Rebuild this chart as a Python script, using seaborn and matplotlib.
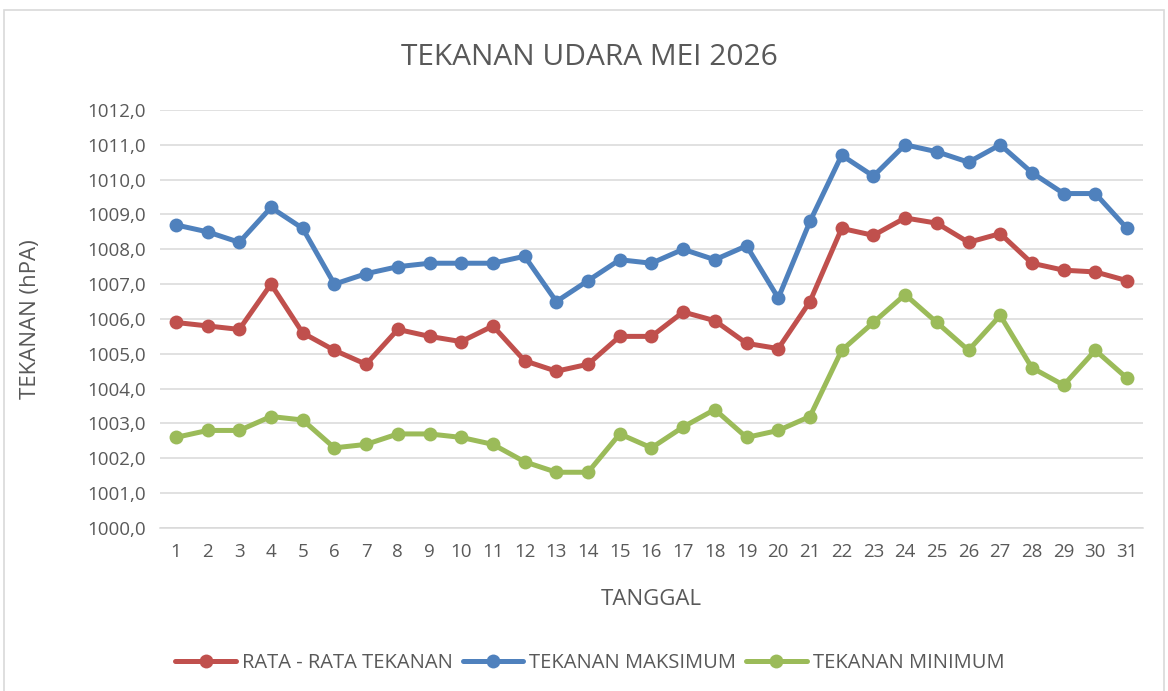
import numpy as np
import pandas as pd
import matplotlib
matplotlib.use("Agg")
import matplotlib.pyplot as plt
from matplotlib.ticker import FuncFormatter, MultipleLocator
from matplotlib.patches import Rectangle
import seaborn as sns

# Data tekanan udara harian, Mei 2026 (hPa)
tanggal = list(range(1, 32))
rata_rata = [1005.9, 1005.8, 1005.7, 1007.0, 1005.6, 1005.1, 1004.7, 1005.7, 1005.5, 1005.35,
             1005.8, 1004.8, 1004.5, 1004.7, 1005.5, 1005.5, 1006.2, 1005.95, 1005.3, 1005.15,
             1006.5, 1008.6, 1008.4, 1008.9, 1008.75, 1008.2, 1008.45, 1007.6, 1007.4, 1007.35,
             1007.1]
maksimum = [1008.7, 1008.5, 1008.2, 1009.2, 1008.6, 1007.0, 1007.3, 1007.5, 1007.6, 1007.6,
            1007.6, 1007.8, 1006.5, 1007.1, 1007.7, 1007.6, 1008.0, 1007.7, 1008.1, 1006.6,
            1008.8, 1010.7, 1010.1, 1011.0, 1010.8, 1010.5, 1011.0, 1010.2, 1009.6, 1009.6,
            1008.6]
minimum = [1002.6, 1002.8, 1002.8, 1003.2, 1003.1, 1002.3, 1002.4, 1002.7, 1002.7, 1002.6,
           1002.4, 1001.9, 1001.6, 1001.6, 1002.7, 1002.3, 1002.9, 1003.4, 1002.6, 1002.8,
           1003.2, 1005.1, 1005.9, 1006.7, 1005.9, 1005.1, 1006.1, 1004.6, 1004.1, 1005.1,
           1004.3]

seri = ["RATA - RATA TEKANAN", "TEKANAN MAKSIMUM", "TEKANAN MINIMUM"]
warna = ["#C0504D", "#4F81BD", "#9BBB59"]

df = pd.DataFrame({
    "TANGGAL": tanggal * 3,
    "TEKANAN": rata_rata + maksimum + minimum,
    "SERI": [seri[0]] * 31 + [seri[1]] * 31 + [seri[2]] * 31,
})

sns.set_theme(style="white")
plt.rcParams["font.family"] = ["Open Sans", "DejaVu Sans"]
teks = "#595959"

fig = plt.figure(figsize=(11.68, 6.91), dpi=100)
ax = fig.add_axes([0.137, 0.2359, 0.8415, 0.605])

# bingkai chart ala Excel
fig.patches.append(Rectangle((0.003, -0.01), 0.994, 0.9955, transform=fig.transFigure,
                             fill=False, edgecolor="#D9D9D9", linewidth=1.2))

for nama, c in zip(seri, warna):
    sns.lineplot(data=df[df["SERI"] == nama], x="TANGGAL", y="TEKANAN", ax=ax,
                 color=c, linewidth=3.6, marker="o", markersize=10,
                 markeredgewidth=0, label=nama)

ax.set_xlim(0.5, 31.5)
ax.set_ylim(1000, 1012)
ax.yaxis.set_major_locator(MultipleLocator(1))
ax.yaxis.set_major_formatter(FuncFormatter(lambda v, p: f"{v:.1f}".replace(".", ",")))
ax.set_xticks(tanggal)
ax.grid(axis="y", color="#D9D9D9", linewidth=1.1)
ax.set_axisbelow(True)
for s in ["top", "right", "left"]:
    ax.spines[s].set_visible(False)
ax.spines["bottom"].set_color("#D9D9D9")
ax.spines["bottom"].set_linewidth(1.1)
ax.tick_params(axis="both", length=0, labelsize=13.5, labelcolor=teks)
ax.tick_params(axis="y", pad=10)
ax.tick_params(axis="x", pad=11)

ax.set_xlabel("TANGGAL", fontsize=16, color=teks)
ax.set_ylabel("TEKANAN (hPA)", fontsize=16, color=teks)
ax.xaxis.set_label_coords(0.5, -0.147)
ax.yaxis.set_label_coords(-0.121, 0.5)
fig.text(0.505, 0.917, "TEKANAN UDARA MEI 2026", ha="center", va="center",
         fontsize=21.5, color=teks)

ax.legend(loc="center", bbox_to_anchor=(0.505, 0.040), bbox_transform=fig.transFigure,
          ncol=3, frameon=False, fontsize=14.5, labelcolor=teks,
          handlelength=3.0, handletextpad=0.3, columnspacing=0.5)

fig.savefig("out.png", dpi=100, facecolor="white")
